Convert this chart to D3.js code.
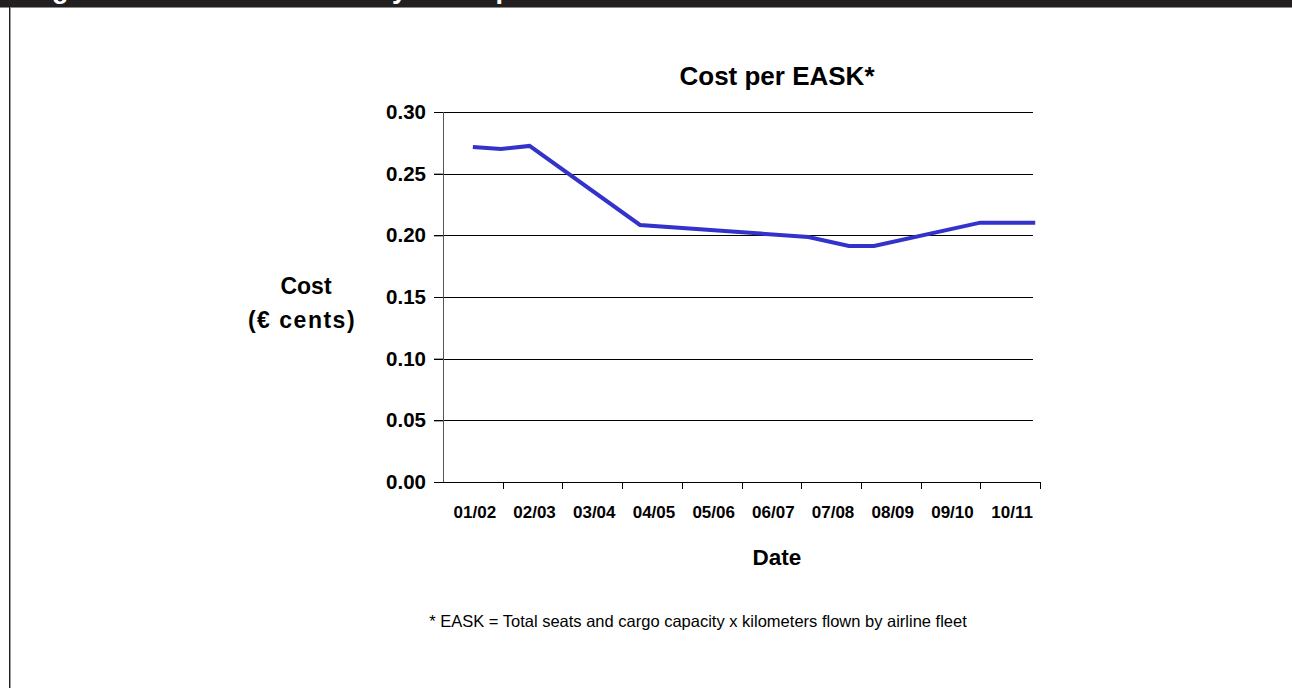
<!DOCTYPE html>
<html>
<head>
<meta charset="utf-8">
<script src="https://cdn.jsdelivr.net/npm/d3@7"></script>
<style>
  html, body { margin: 0; padding: 0; background: #fff; }
  svg { display: block; font-family: "Liberation Sans", Arial, sans-serif; }
</style>
</head>
<body>
<svg id="chart" width="1292" height="688"></svg>
<script>
// Fiscal-year periods shown on the category axis
const categories = ["01/02", "02/03", "03/04", "04/05", "05/06", "06/07", "07/08", "08/09", "09/10", "10/11"];
// Cost-axis ticks (€ cents)
const yTicks = [0.00, 0.05, 0.10, 0.15, 0.20, 0.25, 0.30];
// Observations: position along the period axis (0 = middle of 01/02) and cost per EASK
const periodPos = [0, 0.47, 0.95, 2.8, 5.62, 6.3, 6.72, 8.5, 9.42];
const costValues = [0.2717, 0.2700, 0.2725, 0.2084, 0.1987, 0.1914, 0.1914, 0.2103, 0.2103];

const svg = d3.select("#chart");
const W = 1292, H = 688;

// Page frame: dark caption strip at the top and a rule down the left side
svg.append("rect").attr("x", 0).attr("y", 0).attr("width", W).attr("height", 7).attr("fill", "#231f20");
svg.append("line").attr("x1", 0).attr("x2", W).attr("y1", 7.5).attr("y2", 7.5).attr("stroke", "#8a8a8a").attr("stroke-width", 1);
svg.append("line").attr("x1", 9.5).attr("x2", 9.5).attr("y1", 7).attr("y2", H).attr("stroke", "#231f20").attr("stroke-width", 1);
svg.append("line").attr("x1", 10.5).attr("x2", 10.5).attr("y1", 8).attr("y2", H).attr("stroke", "#9a9a9a").attr("stroke-width", 1);
// caption text runs above the strip; only its descenders fall inside
svg.append("text")
  .attr("x", 28).attr("y", -2.5)
  .attr("fill", "#fff").attr("font-weight", "bold").attr("font-size", 27)
  .text("Figure 4: Total cost efficiency of the past decade");

// Plot area
const margin = { left: 443, top: 112, right: 1292 - 1040, bottom: 688 - 482 };
const w = W - margin.left - margin.right;
const h = H - margin.top - margin.bottom;
const g = svg.append("g").attr("transform", `translate(${margin.left},${margin.top})`);

const x = d3.scaleBand().domain(categories).range([0, w]).paddingInner(0).paddingOuter(0);
const xPos = d3.scaleLinear().domain([-0.5, categories.length - 0.5]).range([0, w]);
const y = d3.scaleLinear().domain([0, 0.30]).range([h, 0]);

// Horizontal gridlines
g.append("g").selectAll("line")
  .data(yTicks.filter(d => d > 0))
  .join("line")
  .attr("x1", -9).attr("x2", w - 7)
  .attr("y1", d => Math.round(y(d)) + 0.5).attr("y2", d => Math.round(y(d)) + 0.5)
  .attr("stroke", "#000").attr("stroke-width", 1);

// Y axis
const yAxis = g.append("g")
  .call(d3.axisLeft(y).tickValues(yTicks).tickFormat(d3.format(".2f")).tickSize(9).tickPadding(8));
yAxis.select(".domain").attr("stroke", "#555").attr("d", `M0.5,0V${h}`);
yAxis.selectAll(".tick line").attr("stroke", "#000");
yAxis.selectAll(".tick text")
  .attr("font-family", "Liberation Sans, Arial, sans-serif")
  .attr("font-size", 20.5).attr("font-weight", "bold").attr("fill", "#000");

// X axis: ticks at period boundaries, labels centred in each period
const xAxis = g.append("g").attr("transform", `translate(0,${h})`);
xAxis.append("line").attr("x1", -9).attr("x2", w).attr("y1", 0.5).attr("y2", 0.5).attr("stroke", "#000");
xAxis.selectAll("line.tk")
  .data(categories)
  .join("line").attr("class", "tk")
  .attr("x1", d => Math.round(x(d) + x.bandwidth()) + 0.5)
  .attr("x2", d => Math.round(x(d) + x.bandwidth()) + 0.5)
  .attr("y1", 0).attr("y2", 7)
  .attr("stroke", "#000");
xAxis.selectAll("text")
  .data(categories)
  .join("text")
  .attr("x", d => x(d) + x.bandwidth() / 2 + 2)
  .attr("y", 36)
  .attr("text-anchor", "middle")
  .attr("font-size", 17).attr("font-weight", "bold").attr("fill", "#000")
  .text(d => d);

// Cost line
const line = d3.line()
  .x((d, i) => xPos(periodPos[i]))
  .y(d => y(d));
g.append("path")
  .datum(costValues)
  .attr("d", line)
  .attr("fill", "none")
  .attr("stroke", "#3333cc")
  .attr("stroke-width", 4)
  .attr("stroke-linejoin", "miter");

// Titles
svg.append("text")
  .attr("x", 777).attr("y", 85)
  .attr("text-anchor", "middle")
  .attr("font-size", 26).attr("font-weight", "bold")
  .text("Cost per EASK*");

svg.append("text")
  .attr("x", 777).attr("y", 565)
  .attr("text-anchor", "middle")
  .attr("font-size", 22.5).attr("font-weight", "bold")
  .text("Date");

const yTitle = svg.append("text")
  .attr("text-anchor", "middle")
  .attr("font-size", 23).attr("font-weight", "bold");
yTitle.append("tspan").attr("x", 306).attr("y", 294).text("Cost");
yTitle.append("tspan").attr("x", 302).attr("y", 328).attr("letter-spacing", 1.5).text("(€ cents)");

svg.append("text")
  .attr("x", 698).attr("y", 627)
  .attr("text-anchor", "middle")
  .attr("font-size", 16.5)
  .text("* EASK = Total seats and cargo capacity x kilometers flown by airline fleet");
</script>
</body>
</html>
